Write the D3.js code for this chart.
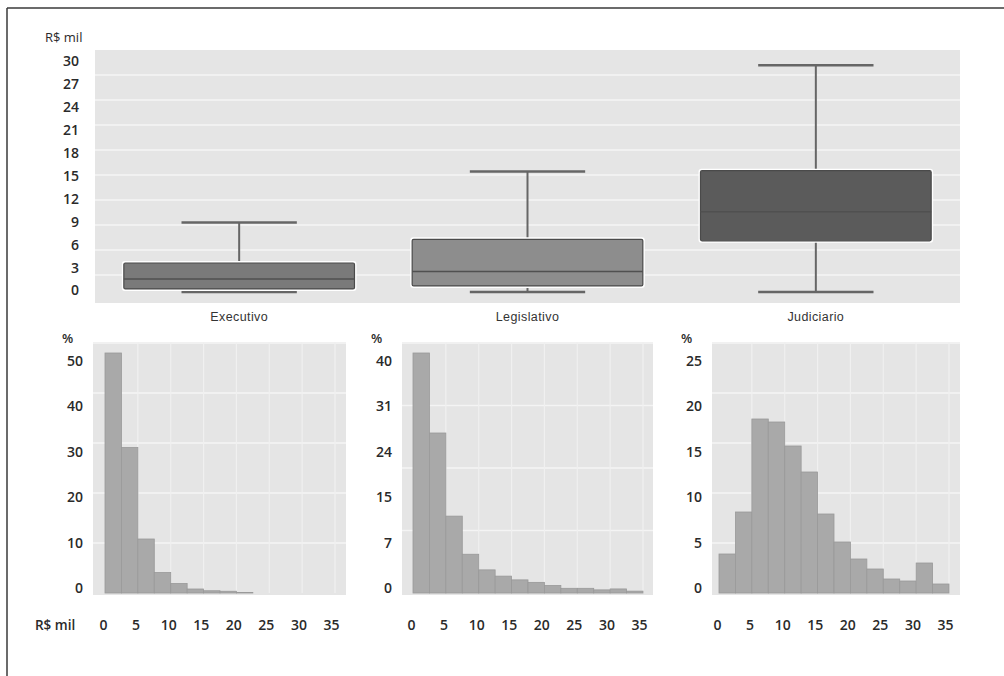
<!DOCTYPE html>
<html>
<head>
<meta charset="utf-8">
<script src="https://cdn.jsdelivr.net/npm/d3@7"></script>
<style>
  body { margin: 0; background: #fff; }
  svg { display: block; }
  .lbl { font-family: "Open Sans", sans-serif; font-size: 14px; font-weight: 600; fill: #2a2a2a; }
  .cat { font-family: "Liberation Sans", Arial, sans-serif; font-size: 12.5px; letter-spacing: 0.4px; fill: #333; }
</style>
</head>
<body>
<div id="chart"></div>
<script>
// box plot data (R$ mil)
let categories = ["Executivo", "Legislativo", "Judiciario"]
let whiskerLow = [0, 0, 0]
let q1 = [0.4, 0.8, 6.7]
let median = [1.7, 2.7, 10.5]
let q3 = [3.8, 6.9, 15.9]
let whiskerHigh = [9.1, 15.8, 29.7]
let boxColors = ["#7a7a7a", "#8d8d8d", "#5b5b5b"]
let boxTicks = [0, 3, 6, 9, 12, 15, 18, 21, 24, 27, 30]

// histograms, bins of 2.5 R$ mil from 0 to 35 (%)
let binEdges = [0, 2.5, 5, 7.5, 10, 12.5, 15, 17.5, 20, 22.5, 25, 27.5, 30, 32.5]
let histExecutivo = [48, 29.1, 10.8, 4.1, 1.9, 0.8, 0.45, 0.35, 0.1, 0, 0, 0, 0, 0]
let histLegislativo = [38.4, 25.6, 12.3, 6.2, 3.7, 2.7, 2.1, 1.7, 1.2, 0.75, 0.75, 0.5, 0.65, 0.3]
let histJudiciario = [3.9, 8.1, 17.4, 17.1, 14.7, 12.1, 7.9, 5.1, 3.4, 2.4, 1.4, 1.2, 3.0, 0.9]
let histYTicks = [[0, 10, 20, 30, 40, 50], [0, 7, 15, 24, 31, 40], [0, 5, 10, 15, 20, 25]]
let histYMax = [50, 40, 25]
let histXTicks = [0, 5, 10, 15, 20, 25, 30, 35]

let W = 1004, H = 676
let svg = d3.select("#chart").append("svg")
    .attr("width", W)
    .attr("height", H)

// frame
svg.append("line").attr("x1", 7).attr("x2", W).attr("y1", 8).attr("y2", 8)
    .attr("stroke", "#3a3a3a").attr("stroke-width", 1.5)
svg.append("line").attr("x1", 7).attr("x2", 7).attr("y1", 8).attr("y2", H)
    .attr("stroke", "#3a3a3a").attr("stroke-width", 1.5)

// ---------- box plot ----------
let bp = {left: 95, right: 960, top: 50, bottom: 303}
svg.append("rect")
    .attr("x", bp.left).attr("y", bp.top)
    .attr("width", bp.right - bp.left).attr("height", bp.bottom - bp.top)
    .attr("fill", "#e5e5e5")

// white gridlines, evenly spaced across the panel
let gridY = d3.scaleLinear().domain([0, 10]).range([bp.top, bp.top + 250])
svg.append("g").selectAll("line")
    .data(d3.range(1, 10))
    .enter().append("line")
    .attr("x1", bp.left).attr("x2", bp.right)
    .attr("y1", d => gridY(d)).attr("y2", d => gridY(d))
    .attr("stroke", "#f4f4f4").attr("stroke-width", 1.5)

let x = d3.scaleBand().domain(categories).range([bp.left, bp.right]).padding(0)
let y = d3.scaleLinear().domain([0, 30]).range([292, 63])

let yAxis = svg.append("g")
    .attr("transform", "translate(79,0)")
    .call(d3.axisLeft(y).tickValues(boxTicks).tickSize(0).tickPadding(0))
yAxis.select(".domain").remove()
yAxis.selectAll("text").attr("class", "lbl").attr("fill", null).attr("dy", "0.35em")
    .attr("transform", "translate(0,-2)")

svg.append("text").attr("class", "lbl").attr("x", 45).attr("y", 42)
    .style("font-size", "13px").style("font-weight", 400).text("R$ mil")

let boxes = categories.map((c, i) => ({
    cat: c, lo: whiskerLow[i], q1: q1[i], med: median[i], q3: q3[i], hi: whiskerHigh[i], color: boxColors[i]
}))

let g = svg.append("g").selectAll("g").data(boxes).enter().append("g")
let cx = d => x(d.cat) + x.bandwidth() / 2
let bw = x.bandwidth() * 0.8
let cw = x.bandwidth() * 0.4

g.append("line")
    .attr("x1", cx).attr("x2", cx)
    .attr("y1", d => y(d.lo)).attr("y2", d => y(d.hi))
    .attr("stroke", "#666").attr("stroke-width", 2)
g.append("line")
    .attr("x1", d => cx(d) - cw / 2).attr("x2", d => cx(d) + cw / 2)
    .attr("y1", d => y(d.hi)).attr("y2", d => y(d.hi))
    .attr("stroke", "#666").attr("stroke-width", 2.5)
g.append("line")
    .attr("x1", d => cx(d) - cw / 2).attr("x2", d => cx(d) + cw / 2)
    .attr("y1", d => y(d.lo)).attr("y2", d => y(d.lo))
    .attr("stroke", "#666").attr("stroke-width", 2.5)
// white halo then box
g.append("rect")
    .attr("x", d => cx(d) - bw / 2 - 2).attr("width", bw + 4)
    .attr("y", d => y(d.q3) - 2).attr("height", d => y(d.q1) - y(d.q3) + 4)
    .attr("rx", 3).attr("fill", "#fff")
g.append("rect")
    .attr("x", d => cx(d) - bw / 2).attr("width", bw)
    .attr("y", d => y(d.q3)).attr("height", d => y(d.q1) - y(d.q3))
    .attr("rx", 1.5)
    .attr("fill", d => d.color).attr("stroke", "#4a4a4a").attr("stroke-width", 1.2)
g.append("line")
    .attr("x1", d => cx(d) - bw / 2).attr("x2", d => cx(d) + bw / 2)
    .attr("y1", d => y(d.med)).attr("y2", d => y(d.med))
    .attr("stroke", "#505050").attr("stroke-width", 1.5)

svg.append("g").selectAll("text").data(categories).enter().append("text")
    .attr("class", "cat")
    .attr("x", d => x(d) + x.bandwidth() / 2).attr("y", 321)
    .attr("text-anchor", "middle")
    .text(d => d)

// ---------- histograms ----------
let hists = [histExecutivo, histLegislativo, histJudiciario]
let panels = [
    {left: 93, right: 346, barStart: 105},
    {left: 402, right: 653, barStart: 413},
    {left: 712, right: 960, barStart: 719}
]
let hTop = 342, hBase = 593

hists.forEach((vals, p) => {
    let pan = panels[p]
    let hx = d3.scaleLinear().domain([0, 35]).range([pan.barStart, pan.barStart + 230])
    let hy = d3.scaleLinear().domain([0, histYMax[p]]).range([hBase, hBase - 250])
    let hg = svg.append("g")

    hg.append("rect")
        .attr("x", pan.left).attr("y", hTop)
        .attr("width", pan.right - pan.left).attr("height", hBase - hTop + 2)
        .attr("fill", "#e5e5e5")

    // grid: 5 horizontal bands, vertical lines every 5
    hg.selectAll(".hg").data(hy.ticks(5).filter(t => t > 0))
        .enter().append("line")
        .attr("x1", pan.left).attr("x2", pan.right)
        .attr("y1", d => hy(d)).attr("y2", d => hy(d))
        .attr("stroke", "#f4f4f4").attr("stroke-width", 1.5)
    hg.selectAll(".vg").data(d3.range(5, 40, 5))
        .enter().append("line")
        .attr("x1", d => hx(d)).attr("x2", d => hx(d))
        .attr("y1", hTop).attr("y2", hBase)
        .attr("stroke", "#f0f0f0").attr("stroke-width", 1.2)

    let bins = binEdges.map((e, i) => ({x0: e, x1: e + 2.5, v: vals[i]}))
    hg.selectAll(".bar").data(bins)
        .enter().append("rect")
        .attr("x", d => hx(d.x0))
        .attr("width", d => hx(d.x1) - hx(d.x0))
        .attr("y", d => hy(d.v))
        .attr("height", d => hBase - hy(d.v))
        .attr("fill", "#a9a9a9")
        .attr("stroke", "#999").attr("stroke-width", 0.8)

    // tick labels are spread evenly down the panel
    let ly = d3.scalePoint().domain(histYTicks[p]).range([588, 361])
    let ya = hg.append("g")
        .attr("transform", "translate(" + (pan.left - 10) + ",0)")
        .call(d3.axisLeft(ly).tickSize(0).tickPadding(0))
    ya.select(".domain").remove()
    ya.selectAll("text").attr("class", "lbl").attr("fill", null)

    hg.append("text").attr("class", "lbl")
        .attr("x", pan.left - 31).attr("y", 343)
        .style("font-size", "13px").text("%")

    let lx = d3.scaleLinear().domain([0, 35]).range([pan.barStart - 2, pan.barStart + 226])
    let xa = hg.append("g")
        .attr("transform", "translate(0,620)")
        .call(d3.axisBottom(lx).tickValues(histXTicks).tickSize(0).tickPadding(0))
    xa.select(".domain").remove()
    xa.selectAll("text").attr("class", "lbl").attr("fill", null)
})

svg.append("text").attr("class", "lbl").attr("x", 35).attr("y", 630)
    .style("font-size", "13.5px").text("R$ mil")
</script>
</body>
</html>
